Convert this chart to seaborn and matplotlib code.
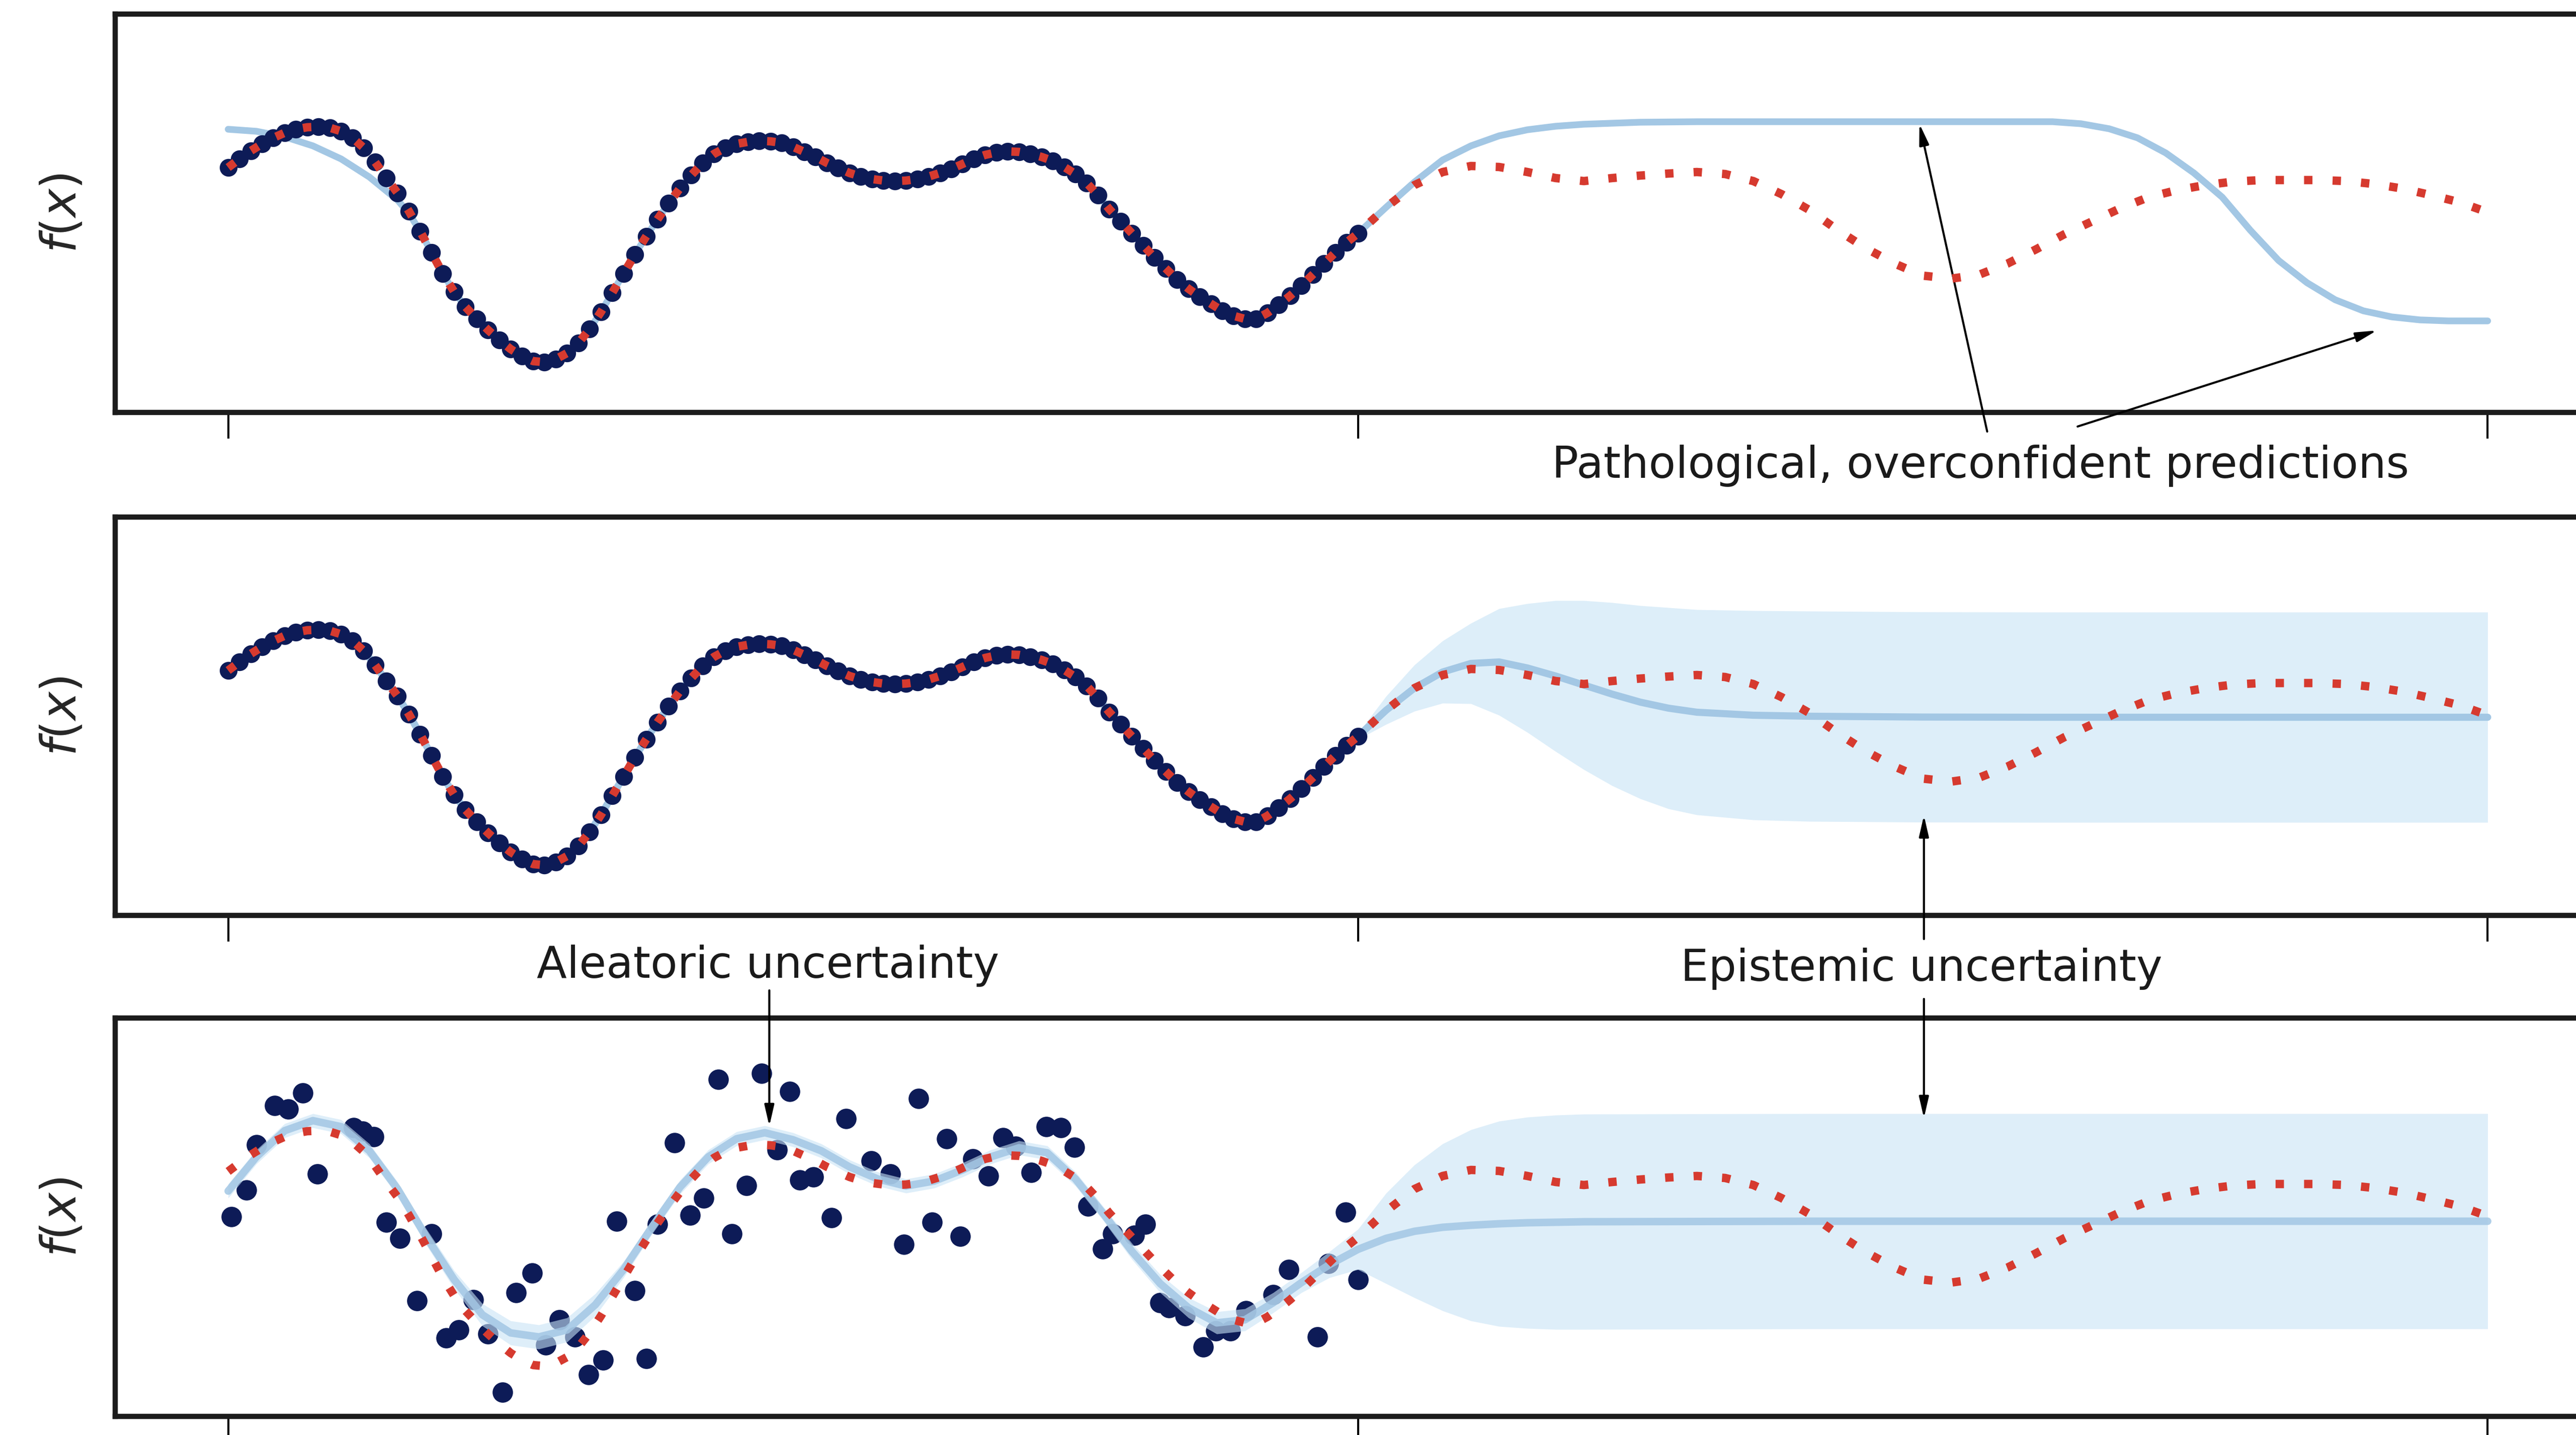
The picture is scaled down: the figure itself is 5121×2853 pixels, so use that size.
import numpy as np
import matplotlib
matplotlib.use("Agg")
import matplotlib.pyplot as plt
import seaborn as sns

# ---------------- data ----------------
# training inputs on [0, 1] (dense, noise free) and the true function there
x_train = np.linspace(0.0, 1.0, 101)
f_train = [0.475, 0.56, 0.64, 0.71, 0.77, 0.82, 0.855, 0.875, 0.88, 0.87,
           0.835, 0.77, 0.67, 0.53, 0.37, 0.22, 0.04, -0.16, -0.37, -0.58,
           -0.76, -0.91, -1.03, -1.14, -1.24, -1.33, -1.40, -1.45, -1.46, -1.43,
           -1.37, -1.27, -1.13, -0.96, -0.77, -0.58, -0.39, -0.21, -0.04, 0.12,
           0.27, 0.40, 0.52, 0.61, 0.67, 0.71, 0.73, 0.74, 0.735, 0.72,
           0.68, 0.63, 0.58, 0.52, 0.47, 0.42, 0.385, 0.36, 0.345, 0.34,
           0.345, 0.36, 0.385, 0.42, 0.46, 0.51, 0.56, 0.60, 0.625, 0.635,
           0.63, 0.61, 0.58, 0.54, 0.48, 0.41, 0.32, 0.20, 0.06, -0.06,
           -0.18, -0.30, -0.42, -0.53, -0.64, -0.73, -0.81, -0.88, -0.95, -1.00,
           -1.03, -1.03, -0.97, -0.89, -0.80, -0.70, -0.59, -0.48, -0.37, -0.27,
           -0.18]

# true function beyond the training range
x_ext = np.linspace(1.025, 2.0, 40)
f_ext = [0.08, 0.30, 0.43, 0.49, 0.48, 0.43, 0.37, 0.34, 0.37, 0.395,
         0.415, 0.43, 0.41, 0.34, 0.21, 0.05, -0.15, -0.33, -0.48, -0.60,
         -0.63, -0.59, -0.48, -0.34, -0.19, -0.06, 0.07, 0.18, 0.25, 0.30,
         0.335, 0.35, 0.35, 0.35, 0.34, 0.31, 0.265, 0.20, 0.13, 0.03]

# panel 1: overconfident network prediction
nn_start_x = [0.0, 0.025, 0.05, 0.075, 0.10, 0.125, 0.15, 0.16]
nn_start_y = [0.855, 0.835, 0.78, 0.69, 0.56, 0.38, 0.15, 0.02]
nn_end_x = [1.05, 1.075, 1.10, 1.125, 1.15, 1.175, 1.20, 1.25, 1.30, 1.40,
            1.50, 1.615, 1.64, 1.665, 1.69, 1.715, 1.74, 1.765, 1.79, 1.815,
            1.84, 1.865, 1.89, 1.915, 1.94, 1.965, 2.0]
nn_end_y = [0.33, 0.55, 0.69, 0.79, 0.85, 0.885, 0.905, 0.925, 0.93, 0.93,
            0.93, 0.93, 0.91, 0.86, 0.77, 0.62, 0.42, 0.18, -0.15, -0.45,
            -0.67, -0.84, -0.95, -1.01, -1.04, -1.05, -1.05]

# panel 2: mean and epistemic band beyond the data
mid_x = [1.0, 1.025, 1.05, 1.075, 1.10, 1.125, 1.15, 1.175, 1.20, 1.225,
         1.25, 1.275, 1.30, 1.35, 1.40, 1.50, 1.60, 2.0]
mid_mean = [-0.18, 0.08, 0.30, 0.46, 0.545, 0.56, 0.50, 0.42, 0.33, 0.24,
            0.16, 0.10, 0.06, 0.03, 0.02, 0.012, 0.01, 0.01]
mid_half = [0.03, 0.14, 0.23, 0.31, 0.40, 0.53, 0.64, 0.75, 0.84, 0.91,
            0.96, 1.0, 1.02, 1.04, 1.045, 1.045, 1.045, 1.045]

# panel 3: noisy observations
x_noisy = [0.003, 0.016, 0.025, 0.041, 0.053, 0.066, 0.079, 0.111, 0.119, 0.129,
           0.140, 0.152, 0.167, 0.180, 0.193, 0.204, 0.217, 0.230, 0.243, 0.255,
           0.269, 0.281, 0.293, 0.307, 0.319, 0.332, 0.344, 0.360, 0.370, 0.380,
           0.395, 0.409, 0.421, 0.434, 0.446, 0.459, 0.472, 0.486, 0.497, 0.506,
           0.518, 0.534, 0.547, 0.569, 0.586, 0.598, 0.611, 0.623, 0.636, 0.648,
           0.659, 0.673, 0.686, 0.697, 0.711, 0.724, 0.737, 0.749, 0.761, 0.774,
           0.783, 0.802, 0.812, 0.825, 0.833, 0.847, 0.863, 0.874, 0.887, 0.901,
           0.925, 0.939, 0.964, 0.974, 0.989, 1.000]
y_noisy = [0.027, 0.29, 0.74, 1.13, 1.095, 1.255, 0.45, 0.91, 0.877, 0.82,
           -0.03, -0.19, -0.81, -0.145, -1.18, -1.10, -0.80, -1.14, -1.72, -0.73,
           -0.535, -1.25, -1.00, -1.17, -1.545, -1.40, -0.02, -0.71, -1.385, -0.05,
           0.76, 0.04, 0.21, 1.39, -0.145, 0.337, 1.45, 0.69, 1.27, 0.39,
           0.42, 0.015, 1.00, 0.578, 0.45, -0.25, 1.20, -0.03, 0.80, -0.17,
           0.60, 0.43, 0.81, 0.727, 0.463, 0.92, 0.91, 0.716, 0.13, -0.295,
           -0.145, -0.16, -0.05, -0.83, -0.88, -0.96, -1.27, -1.11, -1.11, -0.91,
           -0.75, -0.50, -1.17, -0.44, 0.07, -0.60]

# panel 3: mean and uncertainty band
bot_x = [0.0, 0.025, 0.05, 0.075, 0.10, 0.125, 0.15, 0.175, 0.20, 0.225,
         0.25, 0.275, 0.30, 0.325, 0.35, 0.375, 0.40, 0.425, 0.45, 0.475,
         0.50, 0.525, 0.55, 0.575, 0.60, 0.625, 0.65, 0.675, 0.70, 0.725,
         0.75, 0.775, 0.80, 0.825, 0.85, 0.875, 0.90, 0.925, 0.95, 0.975,
         1.0, 1.025, 1.05, 1.075, 1.10, 1.125, 1.15, 1.175, 1.20, 1.40, 2.0]
bot_mean = [0.28, 0.62, 0.88, 0.98, 0.92, 0.68, 0.30, -0.17, -0.60, -0.95,
            -1.13, -1.17, -1.10, -0.85, -0.50, -0.08, 0.32, 0.62, 0.80, 0.86,
            0.79, 0.68, 0.52, 0.40, 0.33, 0.38, 0.49, 0.62, 0.71, 0.66,
            0.40, 0.05, -0.32, -0.64, -0.88, -1.03, -1.00, -0.83, -0.63, -0.45,
            -0.30, -0.19, -0.12, -0.08, -0.06, -0.045, -0.035, -0.03, -0.025, -0.02, -0.02]
bot_half = [0.07, 0.07, 0.07, 0.07, 0.07, 0.07, 0.07, 0.08, 0.09, 0.11,
            0.12, 0.12, 0.12, 0.11, 0.08, 0.07, 0.07, 0.07, 0.07, 0.07,
            0.07, 0.07, 0.07, 0.07, 0.07, 0.07, 0.07, 0.07, 0.07, 0.07,
            0.07, 0.07, 0.08, 0.09, 0.10, 0.11, 0.11, 0.10, 0.10, 0.13,
            0.20, 0.45, 0.66, 0.83, 0.95, 1.02, 1.05, 1.065, 1.07, 1.07, 1.07]

tick_pos = [0, 1, 2]
label_top = "Pathological, overconfident predictions"
label_epi = "Epistemic uncertainty"
label_ale = "Aleatoric uncertainty"
ylabel = "$f(x)$"

# ---------------- style ----------------
sns.set_theme(style="white")
plt.rcParams["font.family"] = ["DejaVu Sans"]
plt.rcParams["mathtext.fontset"] = "dejavusans"

NAVY = "#0d1b57"
RED = "#d63a2f"
BLUE = "#a3c7e4"
BAND = "#ddeef9"
BAND3 = "#c8e3f5"

W_PX, H_PX, DPI = 5121, 2853, 300
fig = plt.figure(figsize=(W_PX / DPI, H_PX / DPI), dpi=DPI)
fig.patch.set_facecolor("white")

left = 229 / W_PX
width = 4941 / W_PX
height = 792 / H_PX
bottoms = [1 - 820 / H_PX, 1 - 1820 / H_PX, 1 - 2816 / H_PX]
axes = [fig.add_axes([left, b, width, height]) for b in bottoms]
ax1, ax2, ax3 = axes

x_true = np.concatenate([x_train, x_ext])
f_true = list(f_train) + list(f_ext)
dotted = (0, (1, 2.4))
RED_LW = 4.0
DOT_S = 72

# ---- panel 1 ----
nn_x = list(nn_start_x) + list(x_train[17:]) + [1.025] + list(nn_end_x)
nn_y = list(nn_start_y) + list(f_train[17:]) + [f_ext[0]] + list(nn_end_y)
sns.lineplot(x=nn_x, y=nn_y, ax=ax1, color=BLUE, lw=3.2, sort=False,
             estimator=None, zorder=2)
sns.scatterplot(x=x_train, y=f_train, ax=ax1, color=NAVY, s=DOT_S,
                linewidth=0, zorder=3)
sns.lineplot(x=x_true, y=f_true, ax=ax1, color=RED, lw=RED_LW, linestyle=dotted,
             sort=False, estimator=None, zorder=4)

# ---- panel 2 ----
mid_lo = [m - h for m, h in zip(mid_mean, mid_half)]
mid_hi = [m + h for m, h in zip(mid_mean, mid_half)]
ax2.fill_between(mid_x, mid_lo, mid_hi, color=BAND, lw=0, zorder=1)
m2_x = list(x_train) + list(mid_x[1:])
m2_y = list(f_train) + list(mid_mean[1:])
sns.lineplot(x=m2_x, y=m2_y, ax=ax2, color=BLUE, lw=3.4, sort=False,
             estimator=None, zorder=2)
sns.scatterplot(x=x_train, y=f_train, ax=ax2, color=NAVY, s=DOT_S,
                linewidth=0, zorder=3)
sns.lineplot(x=x_true, y=f_true, ax=ax2, color=RED, lw=RED_LW, linestyle=dotted,
             sort=False, estimator=None, zorder=4)

# ---- panel 3 ----
sns.scatterplot(x=x_noisy, y=y_noisy, ax=ax3, color=NAVY, s=95,
                linewidth=0, zorder=2)
bot_lo = [m - h for m, h in zip(bot_mean, bot_half)]
bot_hi = [m + h for m, h in zip(bot_mean, bot_half)]
ax3.fill_between(bot_x, bot_lo, bot_hi, color=BAND3, alpha=0.6, lw=0, zorder=3)
sns.lineplot(x=bot_x, y=bot_mean, ax=ax3, color=BLUE, lw=3.6, alpha=0.85,
             sort=False, estimator=None, zorder=3.5)
sns.lineplot(x=x_true, y=f_true, ax=ax3, color=RED, lw=RED_LW, linestyle=dotted,
             sort=False, estimator=None, zorder=4)

# ---- axes styling ----
for ax in axes:
    ax.set_xlim(-0.1, 2.1)
    ax.set_ylim(-1.96, 2.0)
    ax.set_xticks(tick_pos)
    ax.set_xticklabels([])
    ax.set_yticks([])
    ax.set_xlabel("")
    ax.set_ylabel(ylabel, fontsize=23, labelpad=14)
    ax.patch.set_alpha(0)
    ax.tick_params(axis="x", which="major", bottom=True, direction="out",
                   length=12.5, width=1.0, color="black")
    for side in ["top", "bottom", "left", "right"]:
        ax.spines[side].set_visible(True)
        ax.spines[side].set_color("#1c1c1c")
        ax.spines[side].set_linewidth(2.5)

# ---- annotations ----
arrow = dict(arrowstyle="-|>,head_length=0.7,head_width=0.16", color="black",
             lw=1.0, shrinkA=0, shrinkB=0)
ax1.annotate("", xy=(1.497, 0.91), xytext=(1.557, -2.15), arrowprops=arrow,
             annotation_clip=False)
ax1.annotate("", xy=(1.902, -1.145), xytext=(1.637, -2.10), arrowprops=arrow,
             annotation_clip=False)
ax1.text(1.551, -2.61, label_top, ha="center", va="baseline", fontsize=21,
         color="#1a1a1a", clip_on=False)

ax2.annotate("", xy=(1.501, -0.965), xytext=(1.501, -2.195), arrowprops=arrow,
             annotation_clip=False)
ax3.annotate("", xy=(1.501, 1.005), xytext=(1.501, 2.19), arrowprops=arrow,
             annotation_clip=False)
ax3.annotate("", xy=(0.479, 0.925), xytext=(0.479, 2.275), arrowprops=arrow,
             annotation_clip=False)
ax2.text(1.499, -2.61, label_epi, ha="center", va="baseline", fontsize=21,
         color="#1a1a1a", clip_on=False)
ax2.text(0.478, -2.58, label_ale, ha="center", va="baseline", fontsize=21,
         color="#1a1a1a", clip_on=False)

fig.savefig("out.png", dpi=DPI, facecolor="white")
